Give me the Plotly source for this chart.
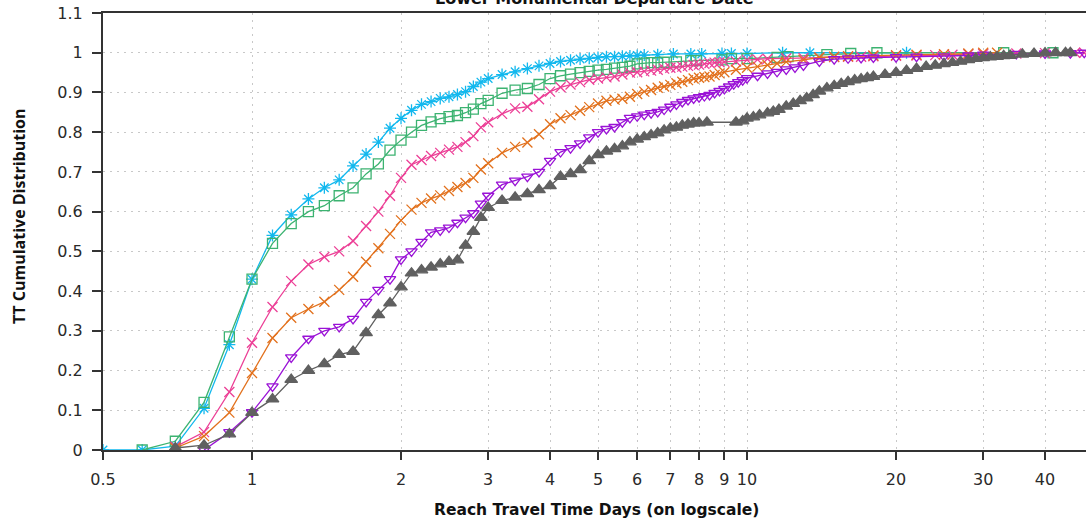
import plotly.graph_objects as go

# Travel-time grid shared by every release group up to 6 days (days)
days_core = [0.5, 0.6, 0.7, 0.8, 0.9, 1.0, 1.1, 1.2, 1.3, 1.4, 1.5, 1.6, 1.7,
             1.8, 1.9, 2.0, 2.1, 2.2, 2.3, 2.4, 2.5, 2.6, 2.7, 2.8, 2.9, 3.0,
             3.2, 3.4, 3.6, 3.8, 4.0, 4.2, 4.4, 4.6, 4.8, 5.0, 5.2, 5.4, 5.6,
             5.8, 6.0]

# Cumulative distribution on the shared grid (None = no fish yet)
cdf_star_core = [0.0, 0.0, 0.01, 0.105, 0.265, 0.43, 0.54, 0.592, 0.632, 0.66,
                 0.68, 0.715, 0.745, 0.775, 0.81, 0.835, 0.855, 0.87, 0.877,
                 0.885, 0.889, 0.895, 0.902, 0.915, 0.926, 0.935,
                 0.945, 0.952, 0.96, 0.967, 0.973, 0.978, 0.981, 0.984, 0.986,
                 0.988, 0.99, 0.99, 0.991, 0.992, 0.993]
cdf_square_core = [None, 0.0, 0.022, 0.12, 0.285, 0.43, 0.52, 0.57, 0.60, 0.615,
                   0.64, 0.66, 0.695, 0.72, 0.755, 0.78, 0.80, 0.817, 0.826,
                   0.834, 0.839, 0.842, 0.849, 0.858, 0.872, 0.88,
                   0.898, 0.906, 0.91, 0.92, 0.935, 0.942, 0.946, 0.95, 0.953,
                   0.956, 0.958, 0.961, 0.963, 0.966, 0.972]
cdf_pink_core = [None, None, 0.008, 0.045, 0.146, 0.27, 0.36, 0.425, 0.467, 0.486,
                 0.50, 0.526, 0.564, 0.60, 0.64, 0.685, 0.718, 0.73, 0.74,
                 0.748, 0.756, 0.763, 0.775, 0.79, 0.812, 0.825,
                 0.846, 0.86, 0.864, 0.883, 0.902, 0.913, 0.92, 0.926, 0.932,
                 0.935, 0.938, 0.94, 0.945, 0.95, 0.951]
cdf_orange_core = [None, None, 0.005, 0.035, 0.094, 0.194, 0.282, 0.333, 0.355,
                   0.373, 0.403, 0.436, 0.474, 0.508, 0.544, 0.578, 0.605,
                   0.622, 0.633, 0.641, 0.652, 0.662, 0.672, 0.685, 0.706, 0.722,
                   0.748, 0.763, 0.774, 0.795, 0.82, 0.835, 0.843, 0.854, 0.863,
                   0.872, 0.879, 0.882, 0.884, 0.889, 0.896]
cdf_tridown_core = [None, None, None, 0.0, 0.045, 0.095, 0.16, 0.233, 0.28, 0.30,
                    0.31, 0.33, 0.373, 0.403, 0.43, 0.48, 0.50, 0.524, 0.548,
                    0.553, 0.56, 0.572, 0.585, 0.596, 0.62, 0.64,
                    0.668, 0.678, 0.688, 0.70, 0.728, 0.75, 0.76, 0.772, 0.787,
                    0.80, 0.808, 0.813, 0.825, 0.836, 0.84]
cdf_triup_core = [None, None, 0.005, 0.012, 0.04, 0.094, 0.128, 0.177, 0.20,
                  0.217, 0.24, 0.248, 0.295, 0.34, 0.37, 0.41, 0.445, 0.453,
                  0.46, 0.468, 0.474, 0.478, 0.515, 0.55, 0.585, 0.61,
                  0.628, 0.636, 0.645, 0.655, 0.665, 0.688, 0.695, 0.705, 0.728,
                  0.743, 0.752, 0.758, 0.765, 0.775, 0.782]

# Long-travel tails, one set of observed days per group
days_star_tail = [6.2, 6.6, 7.1, 7.7, 8.1, 8.9, 9.3, 10.0, 11.8, 13.4, 21.0]
cdf_star_tail = [0.994, 0.995, 0.997, 0.997, 0.997, 0.998, 0.998, 0.998, 1.0,
                 1.0, 1.0]

days_square_tail = [6.2, 6.4, 6.6, 6.8, 7.2, 7.7, 7.9, 8.9, 9.3, 10.0, 11.5,
                    12.1, 14.5, 16.2, 18.3, 33.0, 41.5]
cdf_square_tail = [0.974, 0.975, 0.975, 0.976, 0.977, 0.98, 0.98, 0.982, 0.985,
                   0.985, 0.988, 0.99, 0.995, 0.998, 1.0, 1.0, 1.0]

days_pink_tail = [6.2, 6.4, 6.6, 6.8, 7.0, 7.2, 7.4, 7.6, 7.8, 8.0, 8.2, 8.4,
                  8.6, 8.8, 9.0, 9.5, 10.0, 10.5, 11.0, 12.0, 13.0, 14.0, 15.0,
                  16.0, 17.0, 18.0, 20.0, 22.0, 24.0, 26.0, 28.0, 30.0, 35.0,
                  40.0, 46.0, 48.0]
cdf_pink_tail = [0.953, 0.955, 0.957, 0.96, 0.962, 0.963, 0.965, 0.967, 0.969,
                 0.97, 0.972, 0.974, 0.975, 0.976, 0.977, 0.978, 0.982, 0.983,
                 0.985, 0.986, 0.987, 0.988, 0.989, 0.99, 0.99, 0.991, 0.992,
                 0.993, 0.994, 0.995, 0.996, 0.997, 0.998, 0.999, 1.0, 1.0]

days_orange_tail = [6.2, 6.4, 6.6, 6.8, 7.0, 7.2, 7.4, 7.6, 7.8, 8.0, 8.2, 8.4,
                    8.6, 8.8, 9.0, 9.5, 10.0, 10.5, 11.0, 11.5, 12.0, 13.0,
                    14.0, 15.0, 16.0, 18.0, 20.0, 22.0, 25.0, 28.0, 30.0, 32.0]
cdf_orange_tail = [0.902, 0.906, 0.912, 0.915, 0.919, 0.923, 0.927, 0.931,
                   0.935, 0.937, 0.939, 0.94, 0.944, 0.948, 0.951, 0.957, 0.962,
                   0.965, 0.969, 0.973, 0.977, 0.982, 0.988, 0.99, 0.991, 0.993,
                   0.994, 0.995, 0.996, 0.998, 1.0, 1.0]

days_tridown_tail = [6.2, 6.4, 6.6, 6.8, 7.0, 7.2, 7.4, 7.6, 7.8, 8.0, 8.2,
                     8.4, 8.6, 8.8, 9.0, 9.2, 9.4, 9.6, 9.8, 10.0, 10.5, 11.0,
                     11.5, 12.0, 12.5, 13.0, 14.0, 15.0, 16.0, 17.0, 18.0, 20.0,
                     22.0, 25.0, 28.0, 30.0, 35.0, 40.0, 45.0, 48.0]
cdf_tridown_tail = [0.844, 0.848, 0.851, 0.857, 0.864, 0.87, 0.876, 0.881,
                    0.885, 0.888, 0.891, 0.894, 0.899, 0.904, 0.909, 0.915,
                    0.921, 0.926, 0.931, 0.936, 0.942, 0.948, 0.952, 0.958,
                    0.963, 0.968, 0.978, 0.984, 0.986, 0.987, 0.988, 0.989,
                    0.99, 0.991, 0.993, 0.995, 0.997, 0.998, 0.999, 1.0]

days_triup_tail = [6.2, 6.4, 6.6, 6.8, 7.0, 7.2, 7.4, 7.6, 7.8, 8.0, 8.3, 9.5,
                   9.8, 10.0, 10.3, 10.6, 11.0, 11.3, 11.6, 12.0, 12.4, 12.8,
                   13.2, 13.6, 14.0, 14.5, 15.0, 15.5, 16.0, 16.5, 17.0, 17.5,
                   18.0, 19.0, 20.0, 21.0, 22.0, 23.0, 24.0, 25.0, 26.0, 27.0,
                   28.0, 29.0, 30.0, 31.0, 32.0, 33.0, 34.0, 36.0, 38.0, 40.0,
                   42.0, 44.0, 45.0]
cdf_triup_tail = [0.788, 0.793, 0.798, 0.805, 0.81, 0.812, 0.817, 0.82, 0.823,
                  0.823, 0.825, 0.825, 0.828, 0.835, 0.838, 0.843, 0.848, 0.852,
                  0.857, 0.865, 0.872, 0.879, 0.886, 0.894, 0.903, 0.911, 0.917,
                  0.922, 0.927, 0.931, 0.934, 0.937, 0.94, 0.945, 0.95, 0.955,
                  0.96, 0.965, 0.968, 0.972, 0.975, 0.978, 0.982, 0.985, 0.987,
                  0.989, 0.99, 0.992, 0.993, 0.996, 0.998, 0.999, 1.0, 1.0, 1.0]

x_tick_vals = [0.5, 1, 2, 3, 4, 5, 6, 7, 8, 9, 10, 20, 30, 40]
x_tick_text = ["0.5", "1", "2", "3", "4", "5", "6", "7", "8", "9", "10",
               "20", "30", "40"]
y_tick_vals = [0, 0.1, 0.2, 0.3, 0.4, 0.5, 0.6, 0.7, 0.8, 0.9, 1.0, 1.1]
y_tick_text = ["0", "0.1", "0.2", "0.3", "0.4", "0.5", "0.6", "0.7", "0.8",
               "0.9", "1", "1.1"]

# (core values, tail days, tail values, colour, marker symbol, marker size)
groups = [
    (cdf_star_core, days_star_tail, cdf_star_tail, "#12B8EE", "asterisk-open", 10),
    (cdf_square_core, days_square_tail, cdf_square_tail, "#3CB371", "square-open", 10),
    (cdf_pink_core, days_pink_tail, cdf_pink_tail, "#EC3F96", "x-thin-open", 10),
    (cdf_orange_core, days_orange_tail, cdf_orange_tail, "#E2711D", "x-thin-open", 10),
    (cdf_tridown_core, days_tridown_tail, cdf_tridown_tail, "#9A12D6", "triangle-down-open", 10),
    (cdf_triup_core, days_triup_tail, cdf_triup_tail, "#606060", "triangle-up", 11),
]

fig = go.Figure()
for core, tail_x, tail_y, color, symbol, size in groups:
    xs = [d for d, v in zip(days_core, core) if v is not None] + tail_x
    ys = [v for v in core if v is not None] + tail_y
    fig.add_trace(go.Scatter(
        x=xs, y=ys, mode="lines+markers",
        line=dict(color=color, width=1.3),
        marker=dict(symbol=symbol, size=size, color=color,
                    line=dict(color=color, width=1.3)),
        showlegend=False,
    ))

tick_font = dict(family="DejaVu Sans", size=16, color="#2a2a2a")

fig.update_layout(
    width=1086, height=520,
    margin=dict(l=103, r=0, t=13, b=70),
    paper_bgcolor="white", plot_bgcolor="white",
    annotations=[
        dict(text="<b>Lower Monumental Departure Date</b>",
             font=dict(family="DejaVu Sans", size=16, color="#111111"),
             xref="paper", yref="paper", x=0.5, y=1.0,
             xanchor="center", yanchor="bottom", yshift=3, showarrow=False),
        dict(text="<b>Reach Travel Time Days (on logscale)</b>",
             font=dict(family="DejaVu Sans", size=15.5, color="#111111"),
             xref="paper", yref="paper", x=0.5025, y=-0.1373,
             xanchor="center", yanchor="middle", showarrow=False),
        dict(text="<b>TT Cumulative Distribution</b>",
             font=dict(family="Open Sans", size=16, color="#111111"),
             xref="paper", yref="paper", x=-0.0855, y=0.5355, textangle=-90,
             xanchor="center", yanchor="middle", showarrow=False),
    ],
    xaxis=dict(
        type="log", range=[-0.30103, 1.6848],
        tickvals=x_tick_vals, ticktext=x_tick_text, tickfont=tick_font,
        ticks="outside", ticklen=8, tickcolor="#333333", tickwidth=1.5,
        ticklabelstandoff=6,
        showline=True, linecolor="#333333", linewidth=2, mirror=True,
        showgrid=True, gridcolor="#c8c8c8", gridwidth=1, griddash="2px,5px",
        zeroline=False,
    ),
    yaxis=dict(
        range=[0, 1.1], tickvals=y_tick_vals, ticktext=y_tick_text,
        tickfont=tick_font, ticks="outside", ticklen=9, tickcolor="#333333",
        tickwidth=1.5, ticklabelstandoff=6,
        showline=True, linecolor="#333333", linewidth=2,
        showgrid=True, gridcolor="#c8c8c8", gridwidth=1, griddash="2px,5px",
        zeroline=False,
    ),
)

fig.write_html("out.html")
